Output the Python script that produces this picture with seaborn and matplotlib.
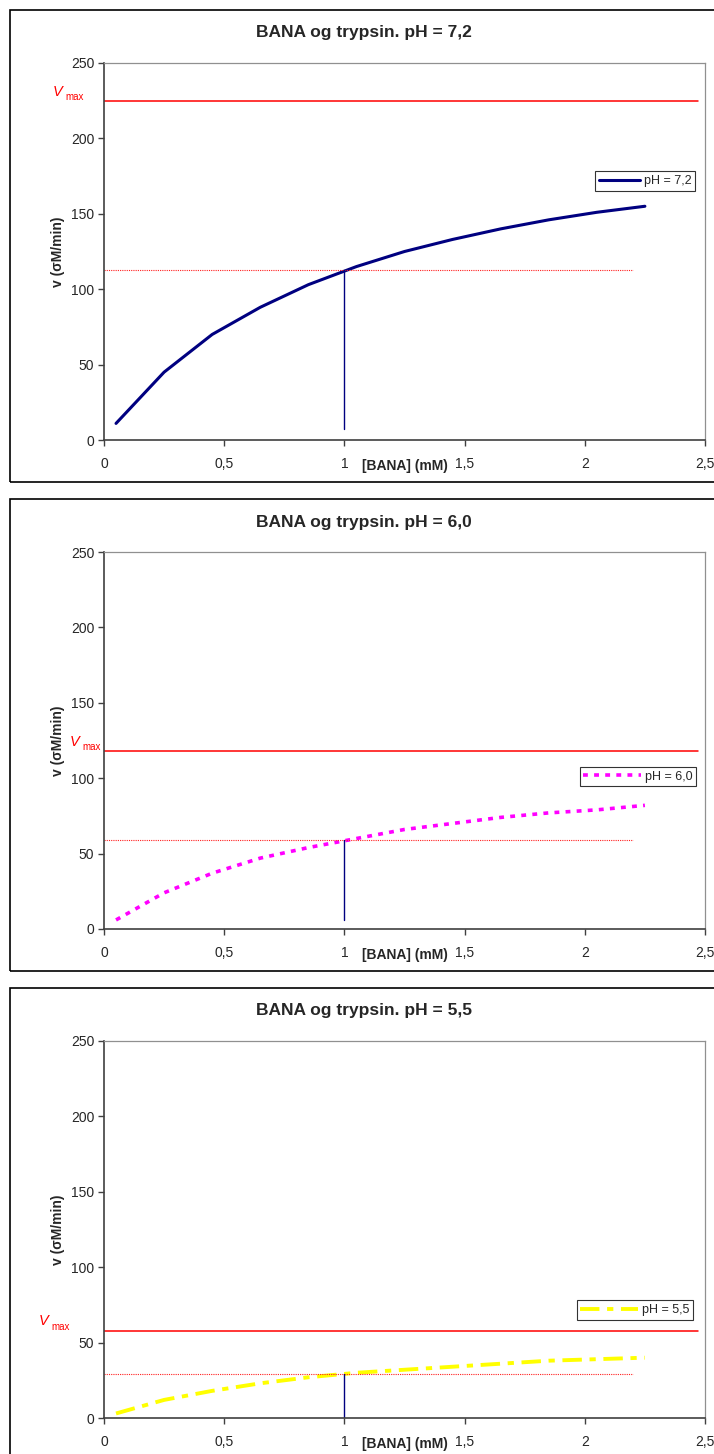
import matplotlib
matplotlib.use("Agg")
import matplotlib.pyplot as plt
from matplotlib.patches import Rectangle
import matplotlib.transforms as mtransforms
import numpy as np
import pandas as pd
import seaborn as sns

# substrate concentration [BANA] (mM)
bana = [0.05, 0.25, 0.45, 0.65, 0.85, 1.05, 1.25, 1.45, 1.65, 1.85, 2.05, 2.25]

# initial rates
v_72 = [11, 45, 70, 88, 103, 115, 125, 133, 140, 146, 151, 155]
v_60 = [6, 24, 37, 47, 54, 60, 66, 70, 74, 77, 79, 82]
v_55 = [3, 12, 18, 23, 27, 30, 32, 34, 36, 38, 39, 40]

ph_labels = ["7,2", "6,0", "5,5"]
vmax = [225, 118, 58]
vline_bottom = [7, 6, 0]
km = 1.0

xticks = [0, 0.5, 1, 1.5, 2, 2.5]
xticklabels = ["0", "0,5", "1", "1,5", "2", "2,5"]
yticks = [0, 50, 100, 150, 200, 250]

sns.set_theme(style="white")
plt.rcParams['font.family'] = ['Liberation Sans', 'DejaVu Sans']
plt.rcParams['lines.scale_dashes'] = False

W, H = 714, 1454
fig = plt.figure(figsize=(W / 100, H / 100), dpi=100)

series = [v_72, v_60, v_55]
colors = ["#000080", "#FF00FF", "#FFFF00"]
styles = ["-", (0, (3.5, 4.5)), (0, (14, 5.5, 4.5, 5.5))]
widths = [2.2, 2.6, 2.8]
handlelen = [3.3, 4.6, 4.6]
leg_x = [0.9, 0.888, 0.883]
leg_y = [0.687, 0.404, 0.286]
vlab_x = [-0.085, -0.057, -0.108]

pitch = 489
for i in range(3):
    top = 63 + pitch * i
    ax = fig.add_axes([104 / W, 1 - (top + 377) / H, 601 / W, 377 / H])
    df = pd.DataFrame({"x": bana, "v": series[i]})
    sns.lineplot(data=df, x="x", y="v", ax=ax, color=colors[i], lw=widths[i],
                 linestyle=styles[i], label="pH = " + ph_labels[i])

    # Vmax, half-Vmax and Km markers
    ax.plot([0, 2.47], [vmax[i], vmax[i]], color="#FF0000", lw=1.1)
    ax.plot([0, 2.2], [vmax[i] / 2, vmax[i] / 2], color="#FF2020", lw=0.8,
            linestyle=(0, (0.8, 0.8)))
    ax.plot([km, km], [vline_bottom[i], vmax[i] / 2], color="#000080", lw=1.0)

    trans = mtransforms.blended_transform_factory(ax.transAxes, ax.transData)
    ax.text(vlab_x[i], vmax[i] + 6, "V", color="#FF0000", fontsize=10.5,
            style="italic", transform=trans, ha="left", va="center")
    ax.text(vlab_x[i] + 0.021, vmax[i] + 2.5, "max", color="#FF0000", fontsize=7,
            transform=trans, ha="left", va="center")

    ax.set_xlim(0, 2.5)
    ax.set_ylim(0, 250)
    ax.set_xticks(xticks)
    ax.set_xticklabels(xticklabels)
    ax.set_yticks(yticks)
    ax.tick_params(axis="both", which="both", direction="out", length=4, width=1,
                   color="#404040", labelsize=10, bottom=True, left=True)
    ax.tick_params(axis="x", pad=8)
    ax.tick_params(axis="y", pad=3)
    ax.set_xlabel("")
    ax.set_ylabel("v (σM/min)", fontsize=10, fontweight="bold", labelpad=4)
    ax.text(1.25, -0.07, "[BANA] (mM)", transform=mtransforms.blended_transform_factory(
        ax.transData, ax.transAxes), ha="center", va="center", fontsize=10,
        fontweight="bold")
    for side in ["left", "bottom"]:
        ax.spines[side].set_color("#404040")
        ax.spines[side].set_linewidth(1.2)
    for side in ["top", "right"]:
        ax.spines[side].set_color("#909090")
        ax.spines[side].set_linewidth(0.9)

    leg = ax.legend(loc="center", bbox_to_anchor=(leg_x[i], leg_y[i]), fontsize=9,
                    frameon=True, fancybox=False, edgecolor="black",
                    handlelength=handlelen[i], borderpad=0.3, handletextpad=0.3,
                    borderaxespad=0)
    leg.get_frame().set_linewidth(0.8)

    # panel frame and title
    ftop = 10 + pitch * i
    fig.patches.append(Rectangle((10 / W, 1 - (ftop + 472) / H), 720 / W, 472 / H,
                                 transform=fig.transFigure, fill=False,
                                 edgecolor="black", lw=1.2))
    fig.text(364 / W, 1 - (ftop + 23) / H, "BANA og trypsin. pH = " + ph_labels[i],
             ha="center", va="center", fontsize=12.5, fontweight="bold")

fig.savefig("out.png", dpi=100)
